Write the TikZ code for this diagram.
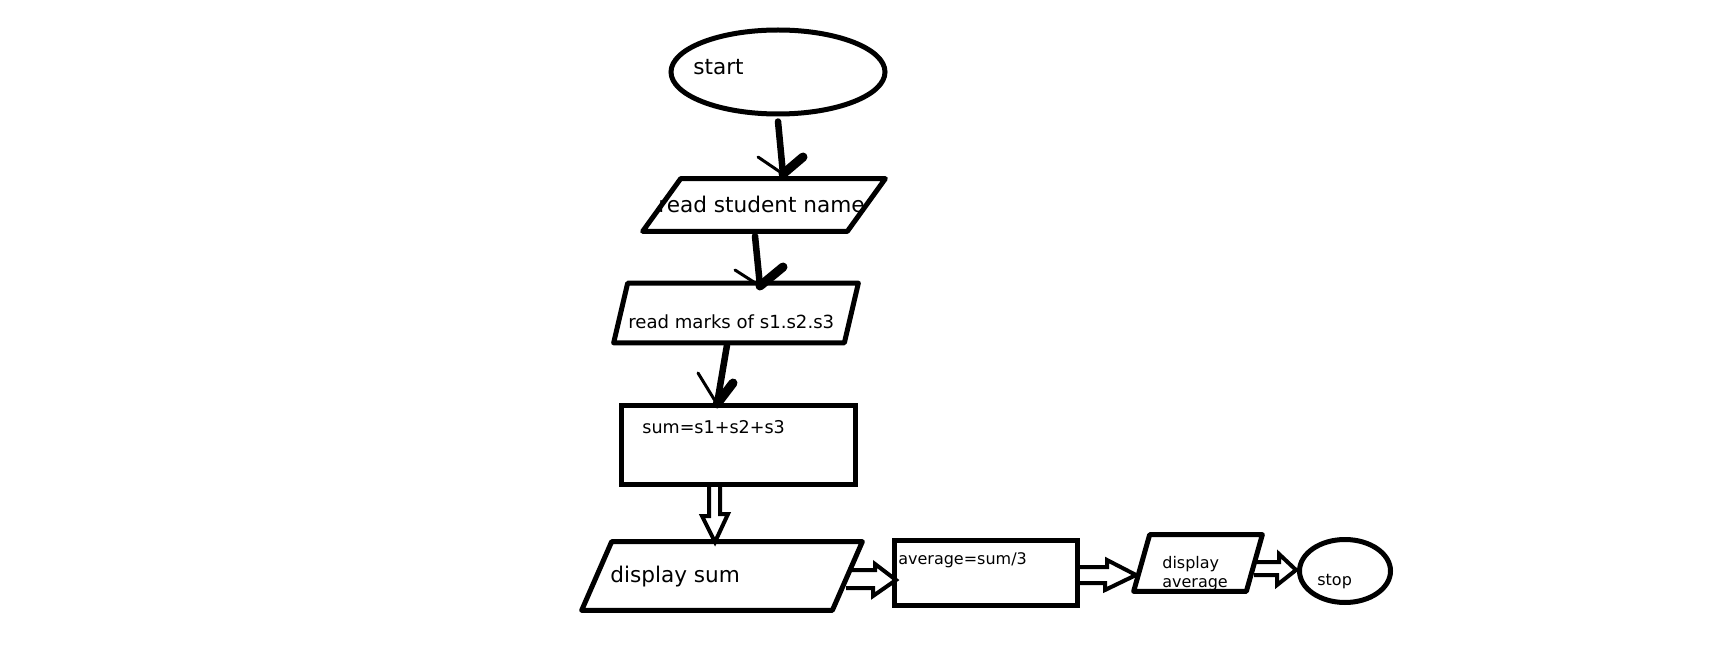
\documentclass[tikz,border=0pt]{standalone}
\usepackage{fontspec}
\setmainfont{DejaVu Sans}
\usetikzlibrary{shapes.geometric,calc}
\tikzset{
  outline/.style={draw, line width=0.1cm},
  end oval/.style 2 args={
    ellipse, outline, inner sep=0pt,
    minimum width={#1*0.02cm},
    minimum height={#2*0.02cm},
  },
  step box/.style 2 args={
    rectangle, outline, inner sep=0pt,
    minimum width={#1*0.02cm},
    minimum height={#2*0.02cm},
  },
  io box/.style n args={3}{
    rectangle, inner sep=0pt,
    minimum width={#1*0.02cm},
    minimum height={#2*0.02cm},
    append after command={
      \pgfextra{
        \draw [outline, line join=round]
          ($(\tikzlastnode.north west)+(#3,0)$) -- ($(\tikzlastnode.north east)+(#3,0)$)
          -- ($(\tikzlastnode.south east)+(-#3,0)$) -- ($(\tikzlastnode.south west)+(-#3,0)$) -- cycle;
      }
    },
  },
  big text/.style={font=\fontsize{12.3}{15}\selectfont, inner sep=0pt, anchor=base west},
  mid text/.style={font=\fontsize{10}{12}\selectfont, inner sep=0pt, anchor=base west},
  small text/.style={font=\fontsize{9.1}{11}\selectfont, inner sep=0pt, anchor=base west},
  pen/.style={line width=0.13cm, line cap=round},
  pen thin/.style={line width=0.06cm, line cap=round},
  pen thick/.style={line width=0.18cm, line cap=round},
  hollow/.style={line width=0.08cm, line join=miter},
}

\begin{document}
\begin{tikzpicture}[x=0.02cm, y=-0.02cm]
  \useasboundingbox[fill=white] (0,0) rectangle (1736,648);

  \node [end oval={214}{84}] (start) at (778,72) {};
  \node [io box={204}{52}{19}] (name) at (764,205) {};
  \node [io box={230}{59}{7}] (marks) at (736,313) {};
  \node [step box={234}{79}] (sum) at (738.5,445) {};
  \node [io box={250}{68}{15}] (dsum) at (722,576) {};
  \node [step box={183}{65}] (avg) at (986,573) {};
  \node [io box={112}{56}{8}] (davg) at (1198,563) {};
  \node [end oval={91}{63}] (stop) at (1345,571) {};

  \node [big text] (start text) at (693,75) {start};
  \node [big text] (name text) at (658,213) {read student name};
  \node [mid text, font=\fontsize{10.3}{12}\selectfont] (marks text) at (628,328) {read marks of s1.s2.s3};
  \node [mid text] (sum text) at (642,433) {sum=s1+s2+s3};
  \node [big text] (dsum text) at (610,582) {display sum};
  \node [small text] (avg text) at (898,564) {average=sum/3};
  \node [small text] (davg text a) at (1162,568) {display};
  \node [small text] (davg text b) at (1162,587) {average};
  \node [small text] (stop text) at (1317,585) {stop};

  \draw [pen] ($(start.south)+(0,5)$) -- ($(name.center)+(19,-31)$) coordinate (tip1);
  \draw [pen thin] (tip1) -- ++(-25,-17);
  \draw [pen thick] (tip1) -- ++(20,-17);

  \draw [pen] ($(name.center)+(-9,31)$) -- ($(marks.center)+(24,-27)$) coordinate (tip2);
  \draw [pen thin] (tip2) -- ++(-25,-16);
  \draw [pen thick] (tip2) -- ++(23,-19);

  \draw [pen] ($(marks.center)+(-9,32)$) -- ($(sum.center)+(-21.5,-41)$) coordinate (tip3);
  \draw [pen thin] (tip3) -- ++(-19,-31);
  \draw [pen thick] (tip3) -- ++(16,-21);

  \draw [hollow] ($(sum.south)+(-29.5,0)$) -- ++(0,29) -- ++(-7,0)
    -- ($(dsum.center)+(-7,-34)$) -- ++(13,-28) -- ++(-8,0) -- ++(0,-29);
  \draw [hollow] ($(dsum.center)+(126,-6)$) -- ++(27,0) -- ++(0,-6)
    -- ($(avg.west)+(4,7)$) -- ++(-23,16) -- ++(0,-8) -- ++(-27,0);
  \draw [hollow] ($(avg.east)+(0,-6)$) -- ++(27,0) -- ++(0,-7)
    -- ($(davg.center)+(-62,12)$) -- ++(-31,15) -- ++(0,-7) -- ++(-27,0);
  \draw [hollow] ($(davg.center)+(58,-1)$) -- ++(23,0) -- ++(0,-8)
    -- ($(stop.west)+(-1,-1)$) -- ++(-19,15) -- ++(0,-10) -- ++(-23,0);
\end{tikzpicture}
\end{document}
